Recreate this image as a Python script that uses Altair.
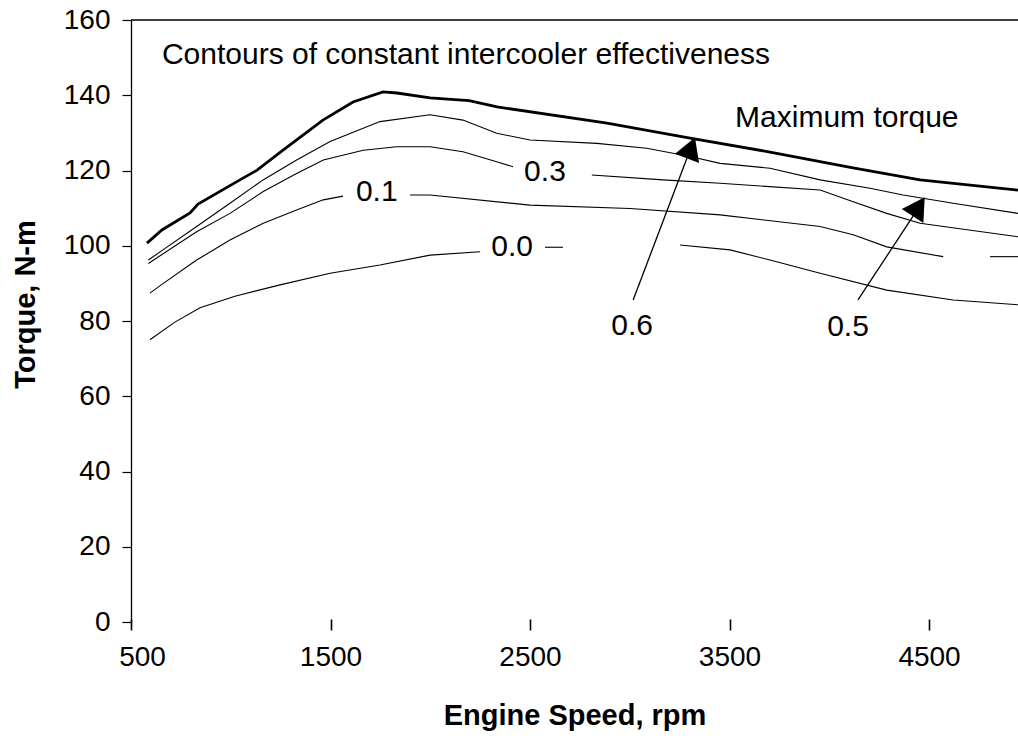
import altair as alt
import pandas as pd

# ---------------- data ----------------
MAX_RPM = [580, 655, 796, 836, 1046, 1132, 1262, 1462, 1613, 1763, 1833, 1999, 2195, 2335, 2886, 3302, 3703, 4119, 4455, 4946]
MAX_TQ = [100.7, 104.2, 108.7, 111.1, 117.5, 120.1, 125.4, 133.4, 138.2, 140.9, 140.6, 139.3, 138.6, 136.9, 132.6, 128.6, 124.9, 120.7, 117.5, 114.8]

E05_RPM = [587, 660, 829, 996, 1162, 1330, 1498, 1748, 1999, 2164, 2333, 2500, 2835, 3085, 3302, 3453, 3703, 3954, 4204, 4370, 4621, 4946]
E05_TQ = [96.2, 98.9, 105.1, 111.3, 117.5, 122.8, 127.7, 133.0, 134.8, 133.4, 129.9, 128.1, 127.2, 125.9, 123.7, 121.9, 120.6, 117.5, 115.3, 113.5, 111.3, 108.6]

E03_RPM_A = [587, 829, 996, 1163, 1330, 1464, 1664, 1832, 1999, 2164, 2333, 2415]
E03_TQ_A = [95.3, 103.7, 108.6, 114.4, 119.2, 122.8, 125.4, 126.3, 126.3, 125.0, 122.3, 121.0]
E03_RPM_B = [2810, 3167, 3453, 3954, 4120, 4288, 4455, 4946]
E03_TQ_B = [118.8, 117.5, 116.6, 114.8, 111.7, 108.6, 106.0, 102.4]

E01_RPM_A = [595, 662, 829, 996, 1163, 1330, 1464, 1563]
E01_TQ_A = [87.4, 90.0, 96.2, 101.5, 106.0, 109.5, 112.2, 113.2]
E01_RPM_B = [1899, 1999, 2500, 3001, 3453, 3954, 4120, 4288, 4571]
E01_TQ_B = [113.5, 113.5, 110.8, 109.9, 108.2, 105.1, 102.9, 99.7, 97.1]
E01_RPM_C = [4806, 4946]
E01_TQ_C = [97.1, 97.1]

E00_RPM_A = [595, 720, 846, 1021, 1247, 1498, 1748, 1999, 2250]
E00_TQ_A = [75.0, 79.7, 83.5, 86.6, 89.6, 92.7, 94.9, 97.5, 98.4]
E00_RPM_B = [2575, 2665]
E00_TQ_B = [99.6, 99.6]
E00_RPM_C = [3252, 3503, 3703, 3954, 4288, 4621, 4946]
E00_TQ_C = [100.2, 98.9, 96.2, 92.7, 88.2, 85.6, 84.3]

# labels
LABEL_TEXT = ["0.1", "0.3", "0.0", "0.6", "0.5"]
LABEL_RPM = [1732, 2575, 2410, 3012, 4094]
LABEL_TQ = [114.3, 119.6, 99.7, 78.7, 78.4]

# arrows (tail -> head)
ARROW_RPM = [3017, 4144]
ARROW_TQ = [85.6, 85.6]
ARROW_RPM2 = [3287, 4420]
ARROW_TQ2 = [123.3, 107.9]
HEAD_RPM = [3307, 4448]
HEAD_TQ = [126.0, 110.4]
HEAD_ANGLE = [21, 33]

X_TICKS = [500, 1500, 2500, 3500, 4500]
Y_TICKS = [0, 20, 40, 60, 80, 100, 120, 140, 160]
X_MIN, X_MAX = 500, 4946
Y_MIN, Y_MAX = 0, 160

FONT = "Liberation Sans"

# ---------------- tables ----------------
thin_rows = []
for seg, (rr, tt) in {
    "e05": (E05_RPM, E05_TQ),
    "e03a": (E03_RPM_A, E03_TQ_A), "e03b": (E03_RPM_B, E03_TQ_B),
    "e01a": (E01_RPM_A, E01_TQ_A), "e01b": (E01_RPM_B, E01_TQ_B), "e01c": (E01_RPM_C, E01_TQ_C),
    "e00a": (E00_RPM_A, E00_TQ_A), "e00b": (E00_RPM_B, E00_TQ_B), "e00c": (E00_RPM_C, E00_TQ_C),
}.items():
    for r, t in zip(rr, tt):
        thin_rows.append({"seg": seg, "rpm": r, "torque": t})
thin_df = pd.DataFrame(thin_rows)
max_df = pd.DataFrame({"rpm": MAX_RPM, "torque": MAX_TQ})
lab_df = pd.DataFrame({"t": LABEL_TEXT, "rpm": LABEL_RPM, "torque": LABEL_TQ})
arr_df = pd.DataFrame({"rpm": ARROW_RPM, "torque": ARROW_TQ, "rpm2": ARROW_RPM2, "torque2": ARROW_TQ2})
head_df = pd.DataFrame({"rpm": HEAD_RPM, "torque": HEAD_TQ, "ang": HEAD_ANGLE})
top_df = pd.DataFrame({"rpm": [X_MIN], "rpm2": [X_MAX], "torque": [Y_MAX]})

xs = alt.Scale(domain=[X_MIN, X_MAX], nice=False, zero=False)
ys = alt.Scale(domain=[Y_MIN, Y_MAX], nice=False)

x_axis = alt.Axis(
    values=X_TICKS, format="d", grid=False, domain=False, ticks=True, tickSize=11, tickWidth=1.6,
    tickColor="black", offset=-3, labelFont=FONT, labelFontSize=28, labelColor="black",
    labelPadding=13, title="Engine Speed, rpm", titleFont=FONT, titleFontSize=29,
    titleFontWeight="bold", titleColor="black", titlePadding=30, labelFlush=False,
    labelOffset={"condition": {"test": "datum.value == 500", "value": 11}, "value": 0},
)
y_axis = alt.Axis(
    values=Y_TICKS, grid=False, domain=True, domainColor="black", domainWidth=1.3,
    ticks=True, tickSize=9, tickColor="black", tickWidth=1.2, labelFont=FONT,
    labelFontSize=28, labelColor="black", labelPadding=12, title="Torque, N-m",
    titleFont=FONT, titleFontSize=29, titleFontWeight="bold", titleColor="black",
    titleX=-106, titleY=284, titleAngle=-90, titleBaseline="middle", titleAlign="center",
)

base_x = alt.X("rpm:Q", scale=xs, axis=x_axis)
base_y = alt.Y("torque:Q", scale=ys, axis=y_axis)

top_rule = alt.Chart(top_df).mark_rule(color="black", strokeWidth=1.4).encode(
    x=base_x, x2="rpm2:Q", y=base_y
)

thin = alt.Chart(thin_df).mark_line(color="black", strokeWidth=1.1).encode(
    x=base_x, y=base_y, detail="seg:N"
)
thick = alt.Chart(max_df).mark_line(color="black", strokeWidth=2.8).encode(x=base_x, y=base_y)

labels = alt.Chart(lab_df).mark_text(
    font=FONT, fontSize=30, color="black", align="center", baseline="middle"
).encode(x=base_x, y=base_y, text="t:N")

arrows = alt.Chart(arr_df).mark_rule(color="black", strokeWidth=1.3).encode(
    x=base_x, y=base_y, x2="rpm2:Q", y2="torque2:Q"
)
heads = alt.Chart(head_df).mark_point(
    shape="triangle-up", filled=True, size=660, color="black", opacity=1
).encode(x=base_x, y=base_y, angle=alt.Angle("ang:Q", scale=None))

title_txt = alt.Chart(pd.DataFrame({"t": ["Contours of constant intercooler effectiveness"],
                                    "rpm": [655], "torque": [150.7]})).mark_text(
    font=FONT, fontSize=30, color="black", align="left", baseline="middle"
).encode(x=base_x, y=base_y, text="t:N")
max_txt = alt.Chart(pd.DataFrame({"t": ["Maximum torque"], "rpm": [3528], "torque": [134.0]})).mark_text(
    font=FONT, fontSize=30, color="black", align="left", baseline="middle"
).encode(x=base_x, y=base_y, text="t:N")

chart = alt.layer(top_rule, thin, thick, arrows, heads, labels, title_txt, max_txt).properties(
    width=887, height=602,
    autosize=alt.AutoSizeParams(type="none"),
    padding={"left": 131, "top": 20, "right": 0, "bottom": 117},
    background="white",
).configure_view(stroke=None)

chart.save("out.html", embed_options={"renderer": "svg", "actions": False})
